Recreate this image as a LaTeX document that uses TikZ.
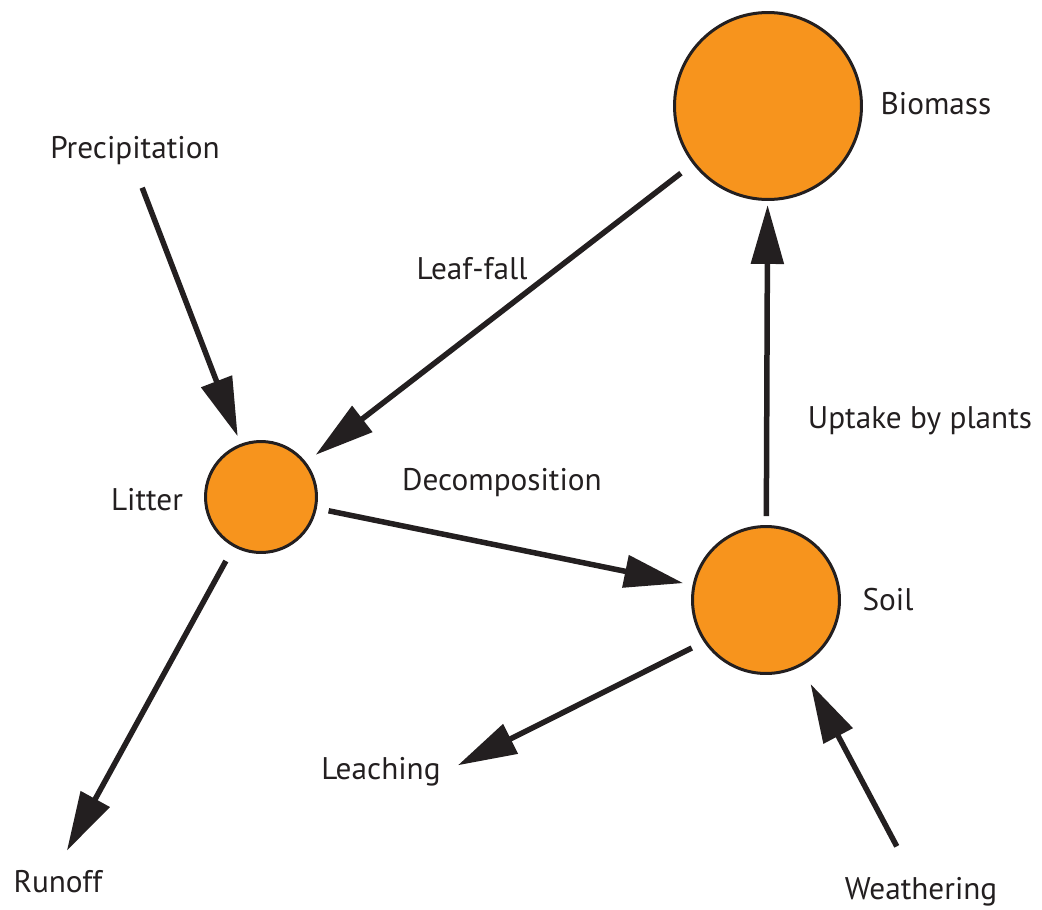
\documentclass[tikz,border=0pt]{standalone}
\usepackage{fontspec}
\setmainfont{PT Sans}
\usetikzlibrary{arrows.meta}
\definecolor{poolfill}{HTML}{F7941D}
\definecolor{ink}{HTML}{231F20}
\tikzset{
  pool/.style={circle,draw=ink,line width=0.06cm,fill=poolfill,inner sep=0pt},
  flux/.style={draw=ink,line width=0.11cm,-{Triangle[length=1.18cm,width=0.64cm]}},
  lbl/.style={text=ink,font=\fontsize{17.8}{21}\selectfont,inner sep=2pt}
}
\begin{document}
\begin{tikzpicture}[x=0.02cm,y=-0.02cm]
\useasboundingbox (0,0) rectangle (1042,910);

\node[pool,minimum size=3.74cm] (biomass) at (768,106) {};
\node[pool,minimum size=2.22cm] (litter) at (261,497) {};
\node[pool,minimum size=2.94cm] (soil) at (766,600) {};

\node[lbl] (biomasslbl) at (936,104) {Biomass};
\node[lbl] (precip) at (135,151) {Precipitation};
\node[lbl] (leaffall) at (472,269) {Leaf-fall};
\node[lbl] (uptake) at (920,421) {Uptake by plants};
\node[lbl] (decomp) at (502,483) {Decomposition};
\node[lbl] (litterlbl) at (147,500) {Litter};
\node[lbl] (soillbl) at (888,600) {Soil};
\node[lbl] (leaching) at (381,772) {Leaching};
\node[lbl] (runoff) at (58,882) {Runoff};
\node[lbl] (weathering) at (921,892) {Weathering};

\draw[flux,shorten <=0.4cm,shorten >=0.16cm] (precip.south) -- (litter);
\draw[flux,shorten <=0.3cm,shorten >=0.24cm] (biomass) -- (litter);
\draw[flux,shorten <=0.24cm,shorten >=0.19cm] (litter) -- (soil);
\draw[flux,shorten <=0.18cm,shorten >=0.08cm] (soil) -- (biomass);
\draw[flux,shorten <=0.32cm,shorten >=0.37cm] (litter) -- (runoff.north);
\draw[flux,shorten <=0.27cm,shorten >=0.3cm] (soil.214) -- (leaching.east);
\draw[flux,shorten <=0.62cm,shorten >=0.4cm] (weathering) -- (soil);

\end{tikzpicture}
\end{document}
